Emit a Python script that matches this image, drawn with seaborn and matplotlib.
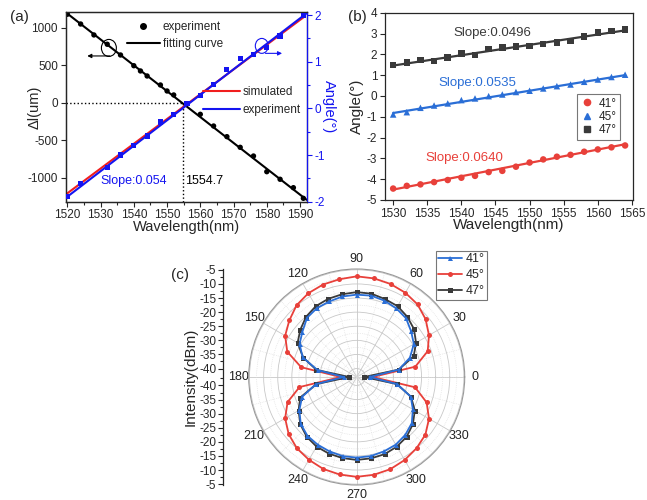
import numpy as np
import matplotlib
matplotlib.use("Agg")
import matplotlib.pyplot as plt
import seaborn as sns
from matplotlib.patches import Ellipse
from matplotlib.lines import Line2D
from matplotlib.ticker import MultipleLocator

sns.set_theme(style="ticks")
plt.rcParams['font.family'] = ['Liberation Sans', 'DejaVu Sans']
plt.rcParams['axes.unicode_minus'] = False

# ---------------- (a) data ----------------
a_exp_wl = [1520, 1524, 1528, 1532, 1536, 1540, 1542, 1544, 1548, 1550, 1552,
            1560, 1564, 1568, 1572, 1576, 1580, 1584, 1588, 1591]
a_exp_dl = [1179, 1049, 903, 779, 636, 493, 423, 356, 236, 156, 103,
            -155, -311, -453, -595, -711, -920, -1021, -1133, -1275]
a_fit_wl = [1519.5, 1592]
a_fit_dl = [1205, -1295]
a_ang_wl = [1520, 1524, 1532, 1536, 1540, 1544, 1548, 1552, 1556, 1560,
            1564, 1568, 1572, 1576, 1580, 1584, 1591]
a_ang_exp = [-1.88, -1.61, -1.26, -1.00, -0.80, -0.59, -0.29, -0.13, 0.11, 0.28,
             0.52, 0.83, 1.07, 1.16, 1.30, 1.55, 2.00]
a_sim_wl = [1520, 1591]
a_sim_ang = [-1.82, 1.95]
a_expfit_wl = [1519.5, 1592]
a_expfit_ang = [-1.92, 2.04]
a_cross_wl = 1554.7

# ---------------- (b) data ----------------
b_wl = [1530, 1532, 1534, 1536, 1538, 1540, 1542, 1544, 1546, 1548,
        1550, 1552, 1554, 1556, 1558, 1560, 1562, 1564]
b_41 = [-4.45, -4.32, -4.25, -4.14, -4.04, -3.93, -3.84, -3.66, -3.60, -3.40,
        -3.20, -3.05, -2.92, -2.83, -2.68, -2.57, -2.47, -2.38]
b_45 = [-0.89, -0.78, -0.57, -0.46, -0.36, -0.20, -0.12, -0.01, 0.07, 0.19,
        0.25, 0.36, 0.47, 0.55, 0.68, 0.79, 0.91, 1.02]
b_47 = [1.48, 1.60, 1.72, 1.68, 1.85, 2.04, 1.96, 2.25, 2.32, 2.37,
        2.40, 2.49, 2.56, 2.65, 2.85, 3.05, 3.13, 3.20]
b_fit_wl = [1530, 1564]
b_fit_41 = [-4.50, -2.32]
b_fit_45 = [-0.82, 1.00]
b_fit_47 = [1.46, 3.15]
b_slopes = ["Slope:0.0640", "Slope:0.0535", "Slope:0.0496"]

# ---------------- (c) data ----------------
c_theta_deg = [0, 10, 20, 30, 40, 50, 60, 70, 80, 90, 100, 110, 120, 130, 140, 150,
               160, 170, 180, 190, 200, 210, 220, 230, 240, 250, 260, 270, 280, 290,
               300, 310, 320, 330, 340, 350]
c_41 = [-38.4, -27.8, -22.9, -19.6, -17.8, -15.8, -14.9, -14.2, -13.7, -13.8,
        -14.0, -14.5, -14.8, -15.6, -17.9, -19.6, -22.6, -28.9, -38.4,
        -28.3, -22.4, -19.5, -17.1, -15.8, -15.3, -14.9, -14.5, -14.4, -14.5,
        -14.9, -15.3, -16.2, -17.5, -20.0, -22.6, -28.5]
c_45 = [-37.3, -21.9, -16.2, -13.4, -11.1, -9.4, -8.5, -7.9, -7.5, -7.3,
        -7.8, -8.1, -8.7, -9.8, -11.8, -13.7, -16.8, -23.0, -37.3,
        -22.4, -16.9, -13.7, -11.5, -10.0, -9.1, -8.3, -7.9, -7.6, -7.8,
        -8.2, -9.0, -10.0, -11.2, -13.4, -16.6, -22.0]
c_47 = [-40.4, -27.9, -21.5, -18.7, -16.5, -15.1, -14.0, -13.6, -13.0, -12.9,
        -13.2, -13.5, -14.0, -15.1, -16.9, -18.8, -22.8, -28.5, -40.4,
        -28.5, -21.7, -19.2, -16.9, -15.4, -14.5, -14.1, -13.8, -13.6, -13.7,
        -13.9, -14.5, -15.4, -17.0, -19.2, -22.5, -28.5]
c_angle_ticks = [0, 30, 60, 90, 120, 150, 180, 210, 240, 270, 300, 330]
c_tick_db = [-5, -10, -15, -20, -25, -30, -35, -40]
c_center = -43.0
c_outer = -4.7

RED_A = '#f01e1e'
BLUE_A = '#1414f0'
RED = '#e8403a'
BLUE = '#2a6ed6'
DARK = '#3a3a3a'

TICK = 8.5
LAB = 10.5

fig = plt.figure(figsize=(6.47, 5.0), dpi=100)
W, H = 647.0, 500.0

# =============== panel (a) ===============
axA = fig.add_axes([0.1015, 0.5966, 0.3725, 0.3788])
axA2 = axA.twinx()
sns.lineplot(x=a_fit_wl, y=a_fit_dl, ax=axA, color='black', lw=1.5)
sns.scatterplot(x=a_exp_wl, y=a_exp_dl, ax=axA, color='black', s=15,
                edgecolor='none', zorder=3)
axA.plot([1519.5, a_cross_wl], [0, 0], ls=':', color='black', lw=1)
axA.plot([a_cross_wl, a_cross_wl], [-1320, 0], ls=':', color='black', lw=1)
axA.set_xlim(1519.5, 1592)
axA.set_ylim(-1320, 1205)
axA2.set_ylim(-2.0, 2.06)
sns.lineplot(x=a_sim_wl, y=a_sim_ang, ax=axA2, color=RED_A, lw=1.5)
sns.lineplot(x=a_expfit_wl, y=a_expfit_ang, ax=axA2, color=BLUE_A, lw=1.5)
sns.scatterplot(x=a_ang_wl, y=a_ang_exp, ax=axA2, marker='s', color=BLUE_A,
                s=14, edgecolor='none', zorder=3)

axA.set_xticks([1520, 1530, 1540, 1550, 1560, 1570, 1580, 1590])
axA.xaxis.set_minor_locator(MultipleLocator(5))
axA.set_yticks([-1000, -500, 0, 500, 1000])
axA2.set_yticks([-2, -1, 0, 1, 2])
axA2.yaxis.set_minor_locator(MultipleLocator(0.5))
axA.tick_params(labelsize=TICK, length=3.5, width=0.8, pad=2)
axA.tick_params(which='minor', length=2, width=0.8)
axA2.tick_params(labelsize=TICK, length=3.5, width=0.8, pad=2, colors=BLUE_A)
axA2.tick_params(which='minor', length=2, width=0.8, colors=BLUE_A)
for ax in (axA, axA2):
    for s in ax.spines.values():
        s.set_linewidth(0.9)
axA2.spines['right'].set_color(BLUE_A)
axA.set_xlabel('Wavelength(nm)', fontsize=LAB, labelpad=-1)
axA.set_ylabel('Δl(um)', fontsize=LAB)
axA.yaxis.set_label_coords(-0.098, 0.5)
axA2.set_ylabel('Angle(°)', fontsize=LAB, color=BLUE_A, rotation=-90, labelpad=8)

axA.add_patch(Ellipse((1532.5, 730), 4.5, 227, fill=False, ec='black', lw=0.8))
axA.annotate('', xy=(1526.0, 623), xytext=(1532.8, 623),
             arrowprops=dict(arrowstyle='-|>', lw=0.8, color='black',
                             mutation_scale=6, shrinkA=0, shrinkB=0))
axA2.add_patch(Ellipse((1578.5, 1.34), 3.9, 0.32, fill=False, ec=BLUE_A, lw=0.8))
axA2.annotate('', xy=(1584.6, 1.18), xytext=(1579.6, 1.18),
              arrowprops=dict(arrowstyle='-|>', lw=0.8, color=BLUE_A,
                              mutation_scale=6, shrinkA=0, shrinkB=0))
axA.text(1529.8, -1044, 'Slope:0.054', color=BLUE_A, fontsize=9, va='center')
axA.text(1555.3, -1044, '1554.7', color='black', fontsize=9, va='center')

h1 = [Line2D([], [], ls='none', marker='o', color='black', ms=4),
      Line2D([], [], color='black', lw=1.5)]
leg1 = axA2.legend(h1, ['experiment', 'fitting curve'], loc='upper left',
                   bbox_to_anchor=(0.254, 0.954), frameon=False, fontsize=TICK,
                   handlelength=2.8, handletextpad=0.25, labelspacing=0.45,
                   borderpad=0, borderaxespad=0)
axA2.add_artist(leg1)
h2 = [Line2D([], [], color=RED_A, lw=1.5), Line2D([], [], color=BLUE_A, lw=1.5)]
axA2.legend(h2, ['simulated', 'experiment'], loc='upper left',
            bbox_to_anchor=(0.570, 0.609), frameon=False, fontsize=TICK,
            handlelength=3.1, handletextpad=0.23, labelspacing=0.45,
            borderpad=0, borderaxespad=0)
fig.text(0.015, 0.967, '(a)', fontsize=11, va='center')

# =============== panel (b) ===============
axB = fig.add_axes([0.595, 0.6, 0.3838, 0.3746])
for yv, fy, col, mk in ((b_41, b_fit_41, RED, 'o'), (b_45, b_fit_45, BLUE, '^'),
                        (b_47, b_fit_47, DARK, 's')):
    sns.lineplot(x=b_fit_wl, y=fy, ax=axB, color=col, lw=1.6)
    sns.scatterplot(x=b_wl, y=yv, ax=axB, color=col, marker=mk, s=22,
                    edgecolor='none', zorder=3)
axB.set_xlim(1528.8, 1565.2)
axB.set_ylim(-5, 4)
axB.set_xticks([1530, 1535, 1540, 1545, 1550, 1555, 1560, 1565])
axB.set_yticks([-5, -4, -3, -2, -1, 0, 1, 2, 3, 4])
axB.tick_params(labelsize=TICK, length=3.5, width=0.8, pad=2)
for s in axB.spines.values():
    s.set_linewidth(0.9)
axB.set_xlabel('Wavelength(nm)', fontsize=11, labelpad=-1)
axB.set_ylabel('Angle(°)', fontsize=11, labelpad=2)
axB.text(1538.8, 3.01, b_slopes[2], color=DARK, fontsize=9.5, va='center')
axB.text(1536.6, 0.61, b_slopes[1], color=BLUE, fontsize=9.5, va='center')
axB.text(1534.7, -3.0, b_slopes[0], color=RED, fontsize=9.5, va='center')
hb = [Line2D([], [], ls='none', marker='o', color=RED, ms=4.5),
      Line2D([], [], ls='none', marker='^', color=BLUE, ms=4.5),
      Line2D([], [], ls='none', marker='s', color=DARK, ms=4.5)]
lb = axB.legend(hb, ['41°', '45°', '47°'], loc='upper right',
                bbox_to_anchor=(0.946, 0.566), fontsize=TICK, frameon=True,
                fancybox=False, handlelength=1.0, handletextpad=0.5,
                labelspacing=0.12, borderpad=0.3, borderaxespad=0)
lb.get_frame().set_edgecolor('#555555')
lb.get_frame().set_linewidth(0.8)
fig.text(0.538, 0.967, '(b)', fontsize=11, va='center')

# =============== panel (c) ===============
R_PX = 108
cx, cy = 356.7, 377.0
pax = fig.add_axes([(cx - R_PX) / W, 1 - (cy + R_PX) / H, 2 * R_PX / W, 2 * R_PX / H],
                   projection='polar')
th = np.deg2rad(np.append(c_theta_deg, c_theta_deg[0] + 360))
for vals, col, mk in ((c_45, RED, 'o'), (c_47, DARK, 's'), (c_41, BLUE, '^')):
    r = np.append(vals, vals[0])
    sns.lineplot(x=th, y=r, ax=pax, sort=False, estimator=None, color=col,
                 lw=1.3, marker=mk, markersize=3.6, markeredgewidth=0)
pax.set_rlim(c_center, c_outer)
pax.set_thetagrids(c_angle_ticks, labels=[str(a) for a in c_angle_ticks])
pax.set_rticks([-40, -35, -30, -25, -20, -15, -10, -5])
pax.set_yticklabels([])
pax.yaxis.set_minor_locator(MultipleLocator(2.5))
pax.xaxis.set_minor_locator(MultipleLocator(np.deg2rad(15)))
pax.grid(True, which='major', color='#c8c8c8', lw=0.6, ls='-')
pax.grid(True, which='minor', color='#dcdcdc', lw=0.5, ls=':')
pax.tick_params(axis='x', which='major', labelsize=TICK + 0.5, pad=-5.5,
                colors='#222222')
pax.spines['polar'].set_color('#999999')
pax.spines['polar'].set_linewidth(0.8)
pax.set_xlabel('')
pax.set_ylabel('')

lax = fig.add_axes([223.3 / W, 1 - (cy + R_PX) / H, 0.0001, 2 * R_PX / H])
span = c_outer - c_center
lax.set_ylim(-span, span)
pos = [t - c_center for t in c_tick_db] + [-(t - c_center) for t in c_tick_db]
labs = [str(t) for t in c_tick_db] * 2
lax.set_yticks(pos)
lax.set_yticklabels(labs)
lax.set_yticks([p + 2.5 for p in pos if abs(p + 2.5) < span], minor=True)
lax.set_xticks([])
for k in ('top', 'right', 'bottom'):
    lax.spines[k].set_visible(False)
lax.spines['left'].set_linewidth(0.9)
lax.tick_params(axis='y', labelsize=TICK, length=3.5, width=0.8, pad=1.5)
lax.tick_params(axis='y', which='minor', length=2, width=0.8)
lax.set_ylabel('Intensity(dBm)', fontsize=11, labelpad=1)

hc = [Line2D([], [], color=BLUE, marker='^', ms=3.6, mew=0, lw=1.3),
      Line2D([], [], color=RED, marker='o', ms=3.6, mew=0, lw=1.3),
      Line2D([], [], color=DARK, marker='s', ms=3.6, mew=0, lw=1.3)]
lc = fig.legend(hc, ['41°', '45°', '47°'], loc='upper right',
                bbox_to_anchor=(487 / W, 1 - 251 / H), fontsize=TICK + 0.5,
                frameon=True, fancybox=False, handlelength=1.9,
                handletextpad=0.3, labelspacing=0.3, borderpad=0.2,
                borderaxespad=0)
lc.get_frame().set_edgecolor('#555555')
lc.get_frame().set_linewidth(0.8)
fig.text(180 / W, 1 - 275 / H, '(c)', fontsize=11, va='center', ha='center')

fig.savefig('out.png', dpi=100)
